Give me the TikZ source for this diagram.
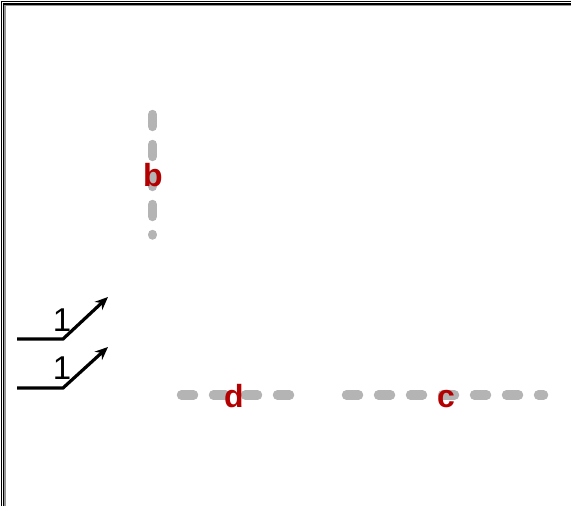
\documentclass[tikz,border=0pt]{standalone}
\usepackage{fontspec}
\setmainfont{Liberation Sans}
\usetikzlibrary{arrows.meta}
\definecolor{lblred}{RGB}{180,0,0}
\definecolor{dashgray}{RGB}{180,180,180}
\definecolor{framegray}{RGB}{150,150,150}
\begin{document}
\begin{tikzpicture}[x=1pt,y=-1pt,
  guide/.style={draw=dashgray,line width=9.5pt,line cap=round},
  lbl/.style={text=lblred,font=\fontsize{32}{32}\selectfont\bfseries,inner sep=0pt,anchor=base},
  numlbl/.style={font=\fontsize{33}{33}\selectfont,inner sep=0pt,anchor=base},
  arr/.style={draw=black,line width=3.2pt,-{Stealth[length=13pt,width=11pt]}}]
\useasboundingbox (0,0) rectangle (571,506);
% frame
\draw[black,line width=1.2pt] (1.5,506) -- (1.5,1.5) -- (571,1.5);
\draw[black,line width=1.2pt] (3.7,506) -- (3.7,4) -- (571,4);
\draw[framegray,line width=1.2pt] (5,506) -- (5,5.3) -- (571,5.3);
% guides
\coordinate (b1) at (152.5,114.5);
\coordinate (b2) at (152.5,235);
\coordinate (d1) at (181.5,395);
\coordinate (d2) at (289.5,395);
\coordinate (c1) at (346.5,395);
\coordinate (c2) at (543.5,395);
\draw[guide,dash pattern=on 12pt off 18pt] (b1) -- (b2);
\draw[guide,dash pattern=on 12pt off 20pt] (d1) -- (d2);
\draw[guide,dash pattern=on 12pt off 20pt] (c1) -- (c2);
\node[lbl] (lb) at (153,186) {b};
\node[lbl] (ld) at (234,407) {d};
\node[lbl] (lc) at (446,407) {c};
% arrows
\coordinate (a1s) at (17,339);
\coordinate (a1m) at (63,339);
\coordinate (a1e) at (108,297);
\coordinate (a2s) at (17,388);
\coordinate (a2m) at (63,388);
\coordinate (a2e) at (108,347);
\draw[arr] (a1s) -- (a1m) -- (a1e);
\draw[arr] (a2s) -- (a2m) -- (a2e);
\node[numlbl] (n1) at (62,331) {1};
\node[numlbl] (n2) at (62,379) {1};
\end{tikzpicture}
\end{document}
